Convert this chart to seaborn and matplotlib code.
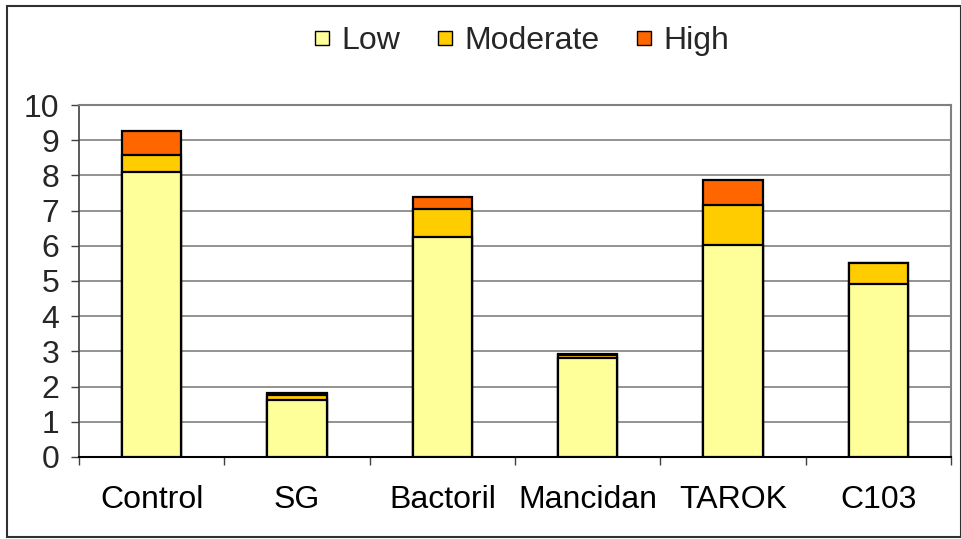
import matplotlib
matplotlib.use("Agg")
import matplotlib.pyplot as plt
import seaborn as sns
import pandas as pd
import numpy as np
from matplotlib.lines import Line2D
from matplotlib.patches import Rectangle

categories = ["Control", "SG", "Bactoril", "Mancidan", "TAROK", "C103"]
low = [8.11, 1.62, 6.24, 2.80, 6.02, 4.91]
moderate = [0.46, 0.15, 0.80, 0.11, 1.15, 0.61]
high = [0.68, 0.06, 0.34, 0.02, 0.71, 0.00]
series_names = ["Low", "Moderate", "High"]
colors = ["#FFFF99", "#FFCC00", "#FF6600"]
y_ticks = list(range(0, 11))

sns.set_theme(style="white")
plt.rcParams["font.family"] = ["Liberation Sans", "DejaVu Sans"]

fig = plt.figure(figsize=(9.62, 5.39), dpi=100)
ax = fig.add_axes([79/962, 1-457/539, (951-79)/962, (457-105)/539])

df = pd.DataFrame({"cat": categories, "low": low, "mod": moderate, "high": high})
df["lm"] = df["low"] + df["mod"]
df["total"] = df["lm"] + df["high"]

for col, c in [("total", colors[2]), ("lm", colors[1]), ("low", colors[0])]:
    sns.barplot(data=df, x="cat", y=col, color=c, width=0.41, edgecolor="black",
                linewidth=1.6, saturation=1, ax=ax, order=categories, zorder=3)

FS = 23
ax.set_xlim(-0.5, 5.5)
ax.set_ylim(0, 10)
ax.set_yticks(y_ticks)
ax.set_yticklabels([str(t) for t in y_ticks], fontsize=FS)
ax.set_xticks(range(len(categories)))
ax.set_xticklabels(categories, fontsize=FS)
ax.set_xlabel("")
ax.set_ylabel("")
ax.set_xticks(np.arange(-0.5, 6.0, 1.0), minor=True)
ax.tick_params(axis="x", which="major", length=0, pad=20, colors="black")
ax.tick_params(axis="x", which="minor", length=6, width=1, color="#404040", direction="out", bottom=True)
ax.tick_params(axis="y", which="major", length=6, width=1, color="#404040", direction="out", left=True, pad=8)

ax.grid(axis="y", color="#808080", linewidth=1.2, zorder=0)
ax.set_axisbelow(True)
for s in ["top", "right"]:
    ax.spines[s].set_visible(True)
    ax.spines[s].set_color("#808080")
    ax.spines[s].set_linewidth(1.5)
ax.spines["left"].set_color("#404040")
ax.spines["left"].set_linewidth(1.2)
ax.spines["bottom"].set_color("black")
ax.spines["bottom"].set_linewidth(1.5)

handles = [Line2D([], [], marker="s", linestyle="none", markersize=9.5,
                  markerfacecolor=c, markeredgecolor="black", markeredgewidth=1.0)
           for c in colors]
fig.legend(handles, series_names, loc="center", bbox_to_anchor=(521/962, 1-41/539),
           ncol=3, frameon=False, fontsize=FS, handletextpad=0.3, columnspacing=1.1,
           handlelength=0.6)

fig.patches.append(Rectangle((7/962, 2/539), (961-7)/962, (533-2)/539,
                             transform=fig.transFigure, fill=False,
                             edgecolor="#303030", linewidth=1.5))

fig.savefig("out.png", dpi=100, facecolor="white")
